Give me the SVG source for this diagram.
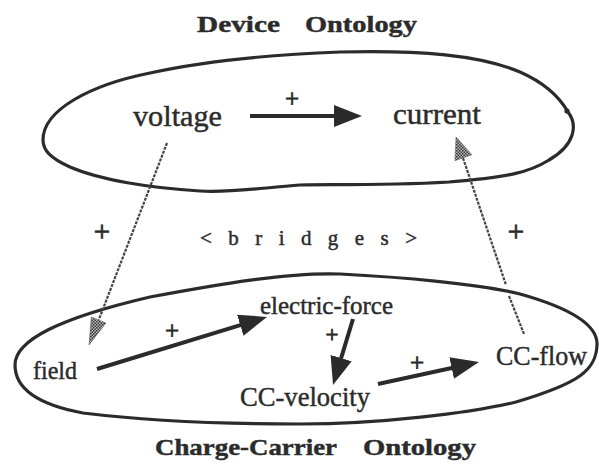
<svg xmlns="http://www.w3.org/2000/svg" width="599" height="464" viewBox="0 0 599 464">
<style>
.t{font-family:"Liberation Serif","Times New Roman",serif;fill:#2b2b2b;stroke:#2b2b2b;stroke-width:0.45}
.title{font-weight:bold;font-size:24px}
.plus{text-anchor:middle;stroke-width:0.8}
.region{fill:none;stroke:#2b2b2b;stroke-width:3.2}
.arr{fill:none;stroke:#2b2b2b;stroke-width:4;marker-end:url(#ah)}
.br{fill:none;stroke:#444;stroke-width:2.2;stroke-dasharray:3 1.2}
.brh{fill:url(#stip);stroke:#666;stroke-width:0.6}
</style>
<defs>
<marker id="ah" markerUnits="userSpaceOnUse" markerWidth="28" markerHeight="22" refX="6" refY="11" orient="auto" viewBox="0 0 28 22">
<path d="M0,0 L28,11 L0,22 Z" fill="#2b2b2b"/>
</marker>
<pattern id="stip" width="3" height="3" patternUnits="userSpaceOnUse">
<rect width="3" height="3" fill="#bbb"/>
<rect width="1.5" height="1.5" fill="#333"/>
<rect x="1.5" y="1.5" width="1.5" height="1.5" fill="#333"/>
</pattern>
</defs>
<rect width="599" height="464" fill="#fff"/>
<g id="device-ontology">
<path class="region" d="M43,140 C43,110 90,85 150,73 C200,62 260,55 340,52 C420,50 480,55 520,72 C545,83 560,98 568,112 C578,125 575,145 549,160 C530,172 510,177 449,182 C380,186 320,184 300,185 C260,188 230,193 200,191 C150,188 100,180 70,167 C50,158 43,150 43,140 Z"/>
<circle cx="567" cy="111" r="2.6" fill="#2b2b2b"/>
<text class="t title"><tspan x="197" y="32" textLength="83" lengthAdjust="spacingAndGlyphs">Device</tspan><tspan x="305" y="32" textLength="112" lengthAdjust="spacingAndGlyphs">Ontology</tspan></text>
</g>
<g id="charge-carrier-ontology">
<path class="region" d="M15,365 C15,340 60,318 150,297 C220,284 290,272 340,274 C400,277 480,284 520,294 C570,308 598,325 597,345 C596,370 580,383 516,402 C470,413 380,424 300,424 C220,424 140,420 83,413 C40,405 15,390 15,365 Z"/>
<text class="t title"><tspan x="155" y="455" textLength="182" lengthAdjust="spacingAndGlyphs">Charge-Carrier</tspan><tspan x="363" y="455" textLength="113" lengthAdjust="spacingAndGlyphs">Ontology</tspan></text>
</g>
<g id="bridges-label">
<text class="t" x="200" y="245" style="font-size:21px" textLength="217">&lt; b r i d g e s &gt;</text>
</g>
<g id="n-voltage"><text class="t" x="133" y="126" style="font-size:29px" textLength="89" lengthAdjust="spacingAndGlyphs">voltage</text></g>
<g id="n-current"><text class="t" x="393" y="124" style="font-size:29px" textLength="88" lengthAdjust="spacingAndGlyphs">current</text></g>
<g id="n-field"><text class="t" x="33" y="379" style="font-size:25px" textLength="44" lengthAdjust="spacingAndGlyphs">field</text></g>
<g id="n-electric-force"><text class="t" x="260" y="314" style="font-size:26px" textLength="133" lengthAdjust="spacingAndGlyphs">electric-force</text></g>
<g id="n-cc-velocity"><text class="t" x="240" y="406" style="font-size:27px" textLength="130" lengthAdjust="spacingAndGlyphs">CC-velocity</text></g>
<g id="n-cc-flow"><text class="t" x="496" y="365" style="font-size:27px" textLength="91" lengthAdjust="spacingAndGlyphs">CC-flow</text></g>
<g id="connectors">
<path class="arr" d="M250,116 L340,116"/>
<path class="arr" d="M97,369 L246,323.4"/>
<path class="arr" d="M353,319 L339.4,363.9"/>
<path class="arr" d="M378,384 L457.5,366.7"/>
<path class="br" d="M167,143 L98.7,320"/>
<path class="brh" d="M89,345 L106,323 L91.3,317 Z"/>
<path class="br" d="M463,158 L506,285 M509,296 L524,334"/>
<path class="brh" d="M456,137 L471.9,154.7 L454.9,160.7 Z"/>
<text class="t plus" x="292" y="107" style="font-size:25px">+</text>
<text class="t plus" x="172" y="339" style="font-size:25px">+</text>
<text class="t plus" x="332" y="342" style="font-size:23px">+</text>
<text class="t plus" x="417" y="371" style="font-size:25px">+</text>
<text class="t plus" x="102" y="241" style="font-size:29px">+</text>
<text class="t plus" x="516" y="241" style="font-size:29px">+</text>
</g>
</svg>
